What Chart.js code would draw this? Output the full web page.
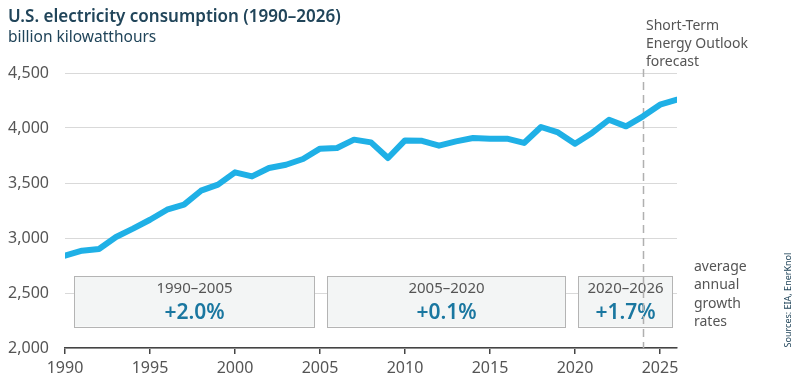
<!DOCTYPE html>
<html>
<head>
<meta charset="utf-8">
<script src="https://cdn.jsdelivr.net/npm/chart.js@4"></script>
<style>
  html, body { margin: 0; padding: 0; background: #fff; }
  #wrap { width: 800px; height: 390px; position: relative; }
</style>
</head>
<body>
<div id="wrap"><canvas id="usconsumption"></canvas></div>
<script>
"use strict";

/* data */
var years = [1990, 1991, 1992, 1993, 1994, 1995, 1996, 1997, 1998, 1999,
             2000, 2001, 2002, 2003, 2004, 2005, 2006, 2007, 2008, 2009,
             2010, 2011, 2012, 2013, 2014, 2015, 2016, 2017, 2018, 2019,
             2020, 2021, 2022, 2023, 2024, 2025, 2026];
var consumption = [2839, 2885, 2900, 3009, 3085, 3166, 3257, 3303, 3430, 3485,
                   3597, 3560, 3636, 3666, 3718, 3812, 3818, 3894, 3869, 3727,
                   3887, 3883, 3839, 3878, 3909, 3903, 3903, 3864, 4009, 3960,
                   3857, 3955, 4075, 4015, 4106, 4212, 4257];
var periods = ['1990–2005', '2005–2020', '2020–2026'];
var growthRates = ['+2.0%', '+0.1%', '+1.7%'];
var forecastStart = 2024;
var yTicks = [2000, 2500, 3000, 3500, 4000, 4500];

var FONT = '"Noto Sans", sans-serif';
var GREY = '#555555';
var NAVY = '#21455a';

/* growth boxes + annotations */
var annotations = {
    id: 'annotations',
    beforeDatasetsDraw: function (chart) {
        var ctx = chart.ctx, x = chart.scales.x, y = chart.scales.y;
        // box extents in data units (start, end) for each period
        var spans = [[1990.5, 2004.65], [2005.4, 2019.4], [2020.2, 2025.7]];
        var top = y.getPixelForValue(2655), bottom = y.getPixelForValue(2195);
        ctx.save();
        spans.forEach(function (s, i) {
            var x0 = Math.round(x.getPixelForValue(s[0])) + 0.5;
            var x1 = Math.round(x.getPixelForValue(s[1])) + 0.5;
            ctx.fillStyle = '#f3f5f5';
            ctx.strokeStyle = '#b4b4b4';
            ctx.lineWidth = 1;
            ctx.fillRect(x0, top, x1 - x0, bottom - top);
            ctx.strokeRect(x0, Math.round(top) + 0.5, x1 - x0, Math.round(bottom - top));
            var cx = (x0 + x1) / 2;
            ctx.textAlign = 'center';
            ctx.textBaseline = 'middle';
            ctx.fillStyle = GREY;
            ctx.font = '15px ' + FONT;
            ctx.fillText(periods[i], cx, top + 13);
            ctx.fillStyle = '#1a77a0';
            ctx.font = '600 21px ' + FONT;
            ctx.fillText(growthRates[i], cx, top + 37);
        });

        // forecast divider
        var fx = Math.round(x.getPixelForValue(forecastStart)) + 0.5;
        ctx.strokeStyle = '#b0b0b0';
        ctx.lineWidth = 1.5;
        ctx.setLineDash([8, 5]);
        ctx.beginPath();
        ctx.moveTo(fx, chart.chartArea.top - 4);
        ctx.lineTo(fx, chart.chartArea.bottom);
        ctx.stroke();
        ctx.restore();
    },
    afterDraw: function (chart) {
        var ctx = chart.ctx;
        ctx.save();
        ctx.textAlign = 'left';
        ctx.textBaseline = 'middle';
        /* title */
        ctx.fillStyle = NAVY;
        ctx.font = '600 17px ' + FONT;
        ctx.fillText('U.S. electricity consumption (1990–2026)', 8, 17);
        ctx.font = '15.5px ' + FONT;
        ctx.fillText('billion kilowatthours', 8, 38);

        /* forecast note */
        ctx.fillStyle = GREY;
        ctx.font = '14px ' + FONT;
        ['Short-Term', 'Energy Outlook', 'forecast'].forEach(function (t, i) {
            ctx.fillText(t, 646, 26 + i * 18);
        });
        ['average', 'annual', 'growth', 'rates'].forEach(function (t, i) {
            ctx.fillText(t, 694, 267 + i * 18.5);
        });

        /* source */
        ctx.translate(788, 300);
        ctx.rotate(-Math.PI / 2);
        ctx.textAlign = 'center';
        ctx.fillStyle = NAVY;
        ctx.font = '9px ' + FONT;
        ctx.fillText('Sources: EIA, EnerKnol', 0, 0);
        ctx.restore();
    }
};

var ctx = document.getElementById('usconsumption').getContext('2d');
var consumptionChart = new Chart(ctx, {
    type: 'line',
    data: {
        datasets: [{
            label: 'U.S. electricity consumption',
            data: years.map(function (yr, i) { return { x: yr, y: consumption[i] }; }),
            borderColor: '#1fb0e6',
            borderWidth: 6,
            borderCapStyle: 'round',
            borderJoinStyle: 'round',
            pointRadius: 0,
            tension: 0,
            fill: false,
        }]
    },
    options: {
        responsive: true,
        maintainAspectRatio: false,
        animation: false,
        layout: {
            padding: { top: 73, right: 123, bottom: 0, left: 0 }
        },
        plugins: {
            legend: { display: false },
            tooltip: { enabled: false },
        },
        scales: {
            x: {
                type: 'linear',
                min: 1990,
                max: 2026,
                afterFit: function (s) { s.height = 42; },
                afterBuildTicks: function (s) {
                    s.ticks = [1990, 1995, 2000, 2005, 2010, 2015, 2020, 2025].map(function (v) { return { value: v }; });
                },
                border: { display: true, color: '#444', width: 1.5 },
                grid: { drawOnChartArea: false, drawTicks: true, tickLength: 6, color: '#444', lineWidth: 1.5 },
                ticks: {
                    color: GREY,
                    font: { family: FONT, size: 16 },
                    padding: 5,
                    maxRotation: 0,
                    callback: function (v) { return String(v); }
                }
            },
            y: {
                min: 2000,
                max: 4500,
                afterFit: function (s) { s.width = 65; },
                afterBuildTicks: function (s) {
                    s.ticks = yTicks.map(function (v) { return { value: v }; });
                },
                border: { display: false },
                grid: { color: '#d9d9d9', lineWidth: 1, drawTicks: false },
                ticks: {
                    color: GREY,
                    font: { family: FONT, size: 16 },
                    padding: 16,
                    callback: function (v) { return v.toLocaleString('en-US'); }
                }
            }
        }
    },
    plugins: [annotations]
});
</script>
</body>
</html>
